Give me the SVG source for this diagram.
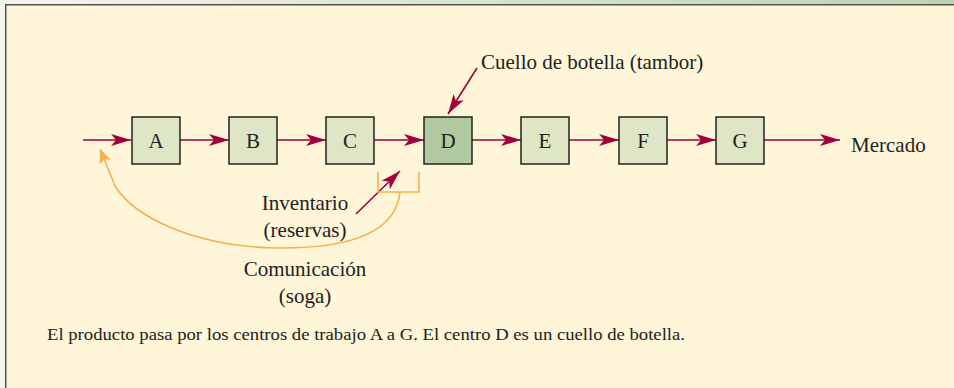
<svg xmlns="http://www.w3.org/2000/svg" width="954" height="388" viewBox="0 0 954 388">
<defs>
<linearGradient id="bg" x1="0" y1="0" x2="1" y2="0">
<stop offset="0" stop-color="#f2f5f0"/>
<stop offset="1" stop-color="#c0d2ad"/>
</linearGradient>
<marker id="ar" viewBox="0 0 20 12" refX="20" refY="6" markerWidth="20" markerHeight="12" markerUnits="userSpaceOnUse" orient="auto">
<path d="M0,0 L20,6 L0,12 L5,6 Z" fill="#a3003b"/>
</marker>
<marker id="ao" viewBox="0 0 14 12" refX="14" refY="6" markerWidth="14" markerHeight="12" markerUnits="userSpaceOnUse" orient="auto">
<path d="M0,0 L14,6 L0,12 L3,6 Z" fill="#f9b04c"/>
</marker>
</defs>
<style>
.box{fill:#dfe6c6;stroke:#222;stroke-width:1.5}
.bn{fill:#b1c9a1;stroke:#222;stroke-width:1.5}
text{font-family:'Liberation Serif','Times New Roman',serif;fill:#222}
.t{font-size:21px}
.c{text-anchor:middle}
.r{stroke:#a3003b;stroke-width:1.6;fill:none}
.o{stroke:#f9b04c;stroke-width:1.6;fill:none}
</style>
<rect x="0" y="0" width="954" height="388" fill="#f2f5f0"/>
<rect x="0" y="0" width="954" height="5" fill="url(#bg)"/>
<rect x="5" y="4" width="949" height="384" fill="#fff5d8"/>
<path d="M5.75,388 V4.75 H954" fill="none" stroke="#555" stroke-width="1.5"/>

<g id="connectors">
<line class="r" x1="83" y1="140" x2="131" y2="140" marker-end="url(#ar)"/>
<line class="r" x1="180" y1="140" x2="229" y2="140" marker-end="url(#ar)"/>
<line class="r" x1="277" y1="140" x2="326" y2="140" marker-end="url(#ar)"/>
<line class="r" x1="374" y1="140" x2="424" y2="140" marker-end="url(#ar)"/>
<line class="r" x1="472" y1="140" x2="521" y2="140" marker-end="url(#ar)"/>
<line class="r" x1="569" y1="140" x2="619" y2="140" marker-end="url(#ar)"/>
<line class="r" x1="667" y1="140" x2="716" y2="140" marker-end="url(#ar)"/>
<line class="r" x1="764" y1="140" x2="840" y2="140" marker-end="url(#ar)"/>
<line class="r" x1="477" y1="68" x2="448" y2="114" marker-end="url(#ar)"/>
<line class="r" x1="356" y1="214" x2="400" y2="171" marker-end="url(#ar)"/>
<path class="o" d="M378,172 V192 H419 V172"/>
<path class="o" d="M400,192 C396,232 350,249 275,248 C195,246 135,218 115,186 L100,149" marker-end="url(#ao)"/>
</g>

<g id="A"><rect class="box" x="132" y="117" width="48" height="47"/><text class="t c" x="156" y="148">A</text></g>
<g id="B"><rect class="box" x="229" y="117" width="48" height="47"/><text class="t c" x="253" y="148">B</text></g>
<g id="C"><rect class="box" x="326" y="117" width="48" height="47"/><text class="t c" x="350" y="148">C</text></g>
<g id="D"><rect class="bn" x="424" y="117" width="48" height="47"/><text class="t c" x="448" y="148">D</text></g>
<g id="E"><rect class="box" x="521" y="117" width="48" height="47"/><text class="t c" x="545" y="148">E</text></g>
<g id="F"><rect class="box" x="619" y="117" width="48" height="47"/><text class="t c" x="643" y="148">F</text></g>
<g id="G"><rect class="box" x="716" y="117" width="48" height="47"/><text class="t c" x="740" y="148">G</text></g>

<g id="labels">
<text class="t" x="851" y="152">Mercado</text>
<text class="t" x="481" y="69">Cuello de botella (tambor)</text>
<text class="t c" x="305" y="210">Inventario</text>
<text class="t c" x="305" y="237">(reservas)</text>
<text class="t c" x="305" y="276">Comunicación</text>
<text class="t c" x="305" y="303">(soga)</text>
<text x="47" y="340" font-size="16" textLength="638" lengthAdjust="spacingAndGlyphs">El producto pasa por los centros de trabajo A a G. El centro D es un cuello de botella.</text>
</g>
</svg>
